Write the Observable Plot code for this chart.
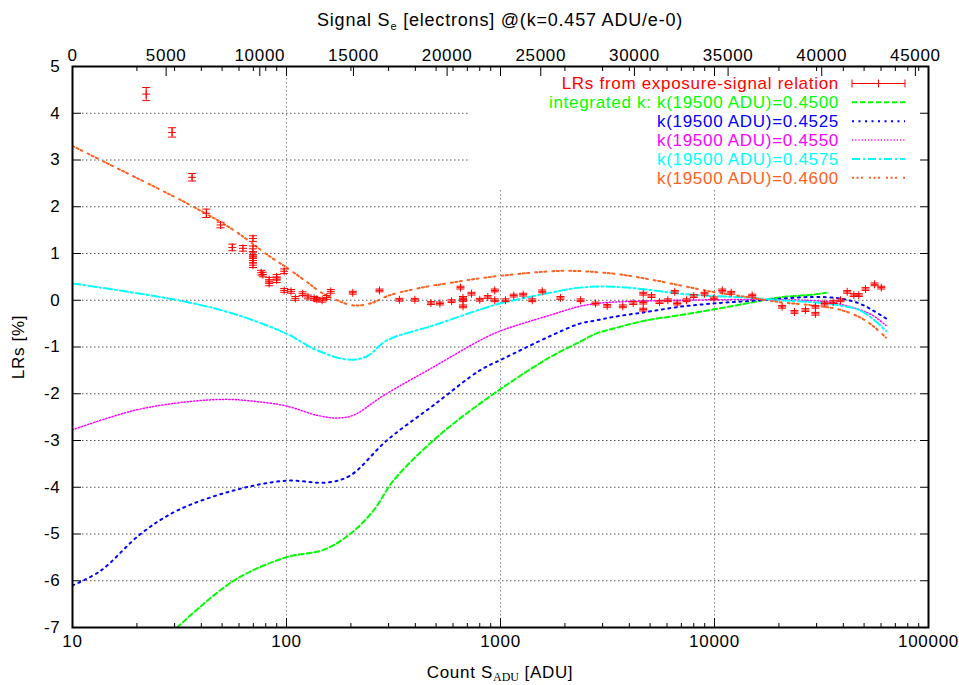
<!DOCTYPE html>
<html><head><meta charset="utf-8">
<script src="https://cdn.jsdelivr.net/npm/d3@7"></script>
<script src="https://cdn.jsdelivr.net/npm/@observablehq/plot@0.6"></script>
<style>body{margin:0;background:#fff} #chart{width:959px;height:685px}</style>
</head><body><div id="chart"></div>
<script>
const FONT = "'Liberation Sans', Arial, Helvetica, sans-serif";

// ---- measured LRs (red points with error bars) ----
const lrAdu = [22.1,29.2,36.2,42.2,49.2,55.8,62.6,69.7,69.7,69.7,69.7,69.7,69.7,76.2,77.5,83,83,90,90,97.5,97.5,105,110,119,126,134.6,138.6,146.8,154,161,204,272,337,398,473,521,591,650,668,668,668,732,800,872,940,940,1055,1153,1276,1407,1567,1906,2366,2780,3152,3728,4170,4645,4645,4645,5076,5534,6052,6524,6696,7400,8000,8980,9930,10870,11970,15000,20700,23640,26600,29630,29630,32750,35860,38800,41700,44770,47230,50800,55970,60150];
const lrVal = [4.41,3.59,2.63,1.86,1.61,1.13,1.11,1.32,1.10,0.98,0.90,0.85,0.75,0.59,0.55,0.36,0.44,0.50,0.43,0.62,0.21,0.19,0.04,0.14,0.07,0.04,0.02,0.00,0.06,0.19,0.16,0.21,0.01,0.01,-0.06,-0.07,-0.02,0.27,0.00,-0.13,0.05,0.14,0.01,0.07,0.21,0.00,0.00,0.10,0.12,0.00,0.19,0.05,0.00,-0.07,-0.12,-0.13,-0.06,0.14,-0.05,-0.20,0.09,-0.04,0.00,0.18,-0.07,0.00,0.09,0.14,0.04,0.21,0.16,0.10,-0.14,-0.25,-0.21,-0.14,-0.29,-0.07,-0.04,0.00,0.18,0.11,0.11,0.24,0.34,0.27];
const lrErr = [0.14,0.10,0.08,0.09,0.06,0.07,0.06,0.06,0.06,0.05,0.05,0.05,0.05,0.05,0.05,0.05,0.05,0.05,0.05,0.05,0.04,0.04,0.04,0.04,0.04,0.04,0.04,0.04,0.04,0.04,0.03,0.03,0.03,0.03,0.03,0.03,0.03,0.03,0.03,0.03,0.03,0.03,0.03,0.03,0.03,0.03,0.03,0.03,0.03,0.03,0.03,0.03,0.03,0.03,0.03,0.03,0.03,0.03,0.03,0.03,0.03,0.03,0.03,0.03,0.03,0.03,0.03,0.03,0.03,0.03,0.03,0.03,0.03,0.03,0.03,0.03,0.03,0.03,0.03,0.03,0.03,0.03,0.03,0.03,0.03,0.03];

// ---- model curves ----
const greenAdu = [30.8,56.6,99.4,148.9,198.3,254.7,315.7,485,801,1641,2347,2809,3345,4807,6873,9797,14075,20130,28700,33240];
const greenLrs = [-7.0,-6.0,-5.5,-5.34,-5.0,-4.5,-3.86,-3.0,-2.21,-1.26,-0.89,-0.71,-0.61,-0.43,-0.32,-0.2,-0.07,0.06,0.12,0.16];
const blueAdu = [10,13.5,20.8,30.8,56.6,99.4,154.4,198.3,294.2,485,801,1029,1700,2347,2809,3345,4807,6873,9797,14075,20130,28700,38360,47540,54680,63340];
const blueLrs = [-6.1,-5.79,-5.0,-4.5,-4.07,-3.86,-3.9,-3.75,-3.0,-2.25,-1.5,-1.25,-0.77,-0.5,-0.43,-0.36,-0.25,-0.14,-0.07,-0.02,0.03,0.07,0.04,-0.07,-0.21,-0.39];
const magentaAdu = [10,19.3,33.1,52.7,69.9,99.4,138.7,171.9,205.4,283.6,485,801,994,1700,2347,2809,3345,6873,20130,34440,47540,54680,63340];
const magentaLrs = [-2.77,-2.36,-2.18,-2.12,-2.16,-2.26,-2.46,-2.52,-2.46,-2.04,-1.43,-0.86,-0.66,-0.32,-0.13,-0.07,-0.04,0.0,0.01,-0.04,-0.2,-0.32,-0.54];
const cyanAdu = [10,31.9,56.6,99.4,138.7,194.7,237.2,294.2,485,801,994,1700,2347,3345,4807,6873,9797,14075,20130,28700,38360,47540,54680,63340];
const cyanLrs = [0.36,-0.01,-0.29,-0.71,-1.07,-1.27,-1.2,-0.86,-0.54,-0.2,-0.07,0.16,0.27,0.29,0.23,0.14,0.09,0.06,0.0,-0.04,-0.11,-0.21,-0.39,-0.66];
const orangeAdu = [10,13.95,36.7,56.6,83.9,99.4,124.5,143.7,171.9,205.4,245.8,304.8,452,580,773,1189,2000,3345,4807,6873,9797,14075,20130,28700,38360,47540,54680,63340];
const orangeLrs = [3.3,2.97,2.0,1.5,0.93,0.71,0.39,0.18,0.0,-0.11,-0.07,0.11,0.29,0.37,0.46,0.56,0.63,0.57,0.46,0.32,0.18,0.07,-0.04,-0.11,-0.2,-0.36,-0.54,-0.8];

const seriesLabels = ["LRs from exposure-signal relation","integrated k: k(19500 ADU)=0.4500","k(19500 ADU)=0.4525","k(19500 ADU)=0.4550","k(19500 ADU)=0.4575","k(19500 ADU)=0.4600"];
const seriesColors = ["#ff0000","#00ff00","#0000ff","#ff00ff","#00ffff","#ff6020"];
const seriesDash = [null,"5,3","2,4.5","1.2,2","8,3,2,3","2,2.5,2,2.5,2,6"];
const seriesWidth = [1,2,2,1.5,2,2];

// ---- axes ----
const xMajor = [10,100,1000,10000,100000];
const xMinor = [];
for (const dec of [10,100,1000,10000]) for (let m = 2; m <= 9; m++) xMinor.push(dec*m);
const yTicks = d3.range(-7,6);
const yGrid = d3.range(-6,5);
const xGrid = [100,1000,10000];
const X2MAX = 45700;   // top axis range, electrons
const x2Ticks = d3.range(0,45001,5000);
const e2adu = e => Math.pow(10, 1 + 4*e/X2MAX);

const pts = lrAdu.map((a,i)=>({adu:a, v:lrVal[i], e:lrErr[i]}));
const curves = [[greenAdu,greenLrs],[blueAdu,blueLrs],[magentaAdu,magentaLrs],[cyanAdu,cyanLrs],[orangeAdu,orangeLrs]]
  .map(([xs,ys]) => xs.map((x,i)=>({adu:x, v:ys[i]})));

const capSymbol = {draw(ctx, size){ const w = Math.sqrt(size/Math.PI)*0.5; ctx.moveTo(-w,0); ctx.lineTo(w,0); }};
const plusSymbol = {draw(ctx, size){ const w = Math.sqrt(size/Math.PI)*0.5; ctx.moveTo(-w,0); ctx.lineTo(w,0); ctx.moveTo(0,-w); ctx.lineTo(0,w); }};

const plot = Plot.plot({
  width: 959, height: 685,
  marginLeft: 72, marginRight: 31, marginTop: 66, marginBottom: 58,
  style: {fontFamily: FONT, fontSize: "17px", background: "white", color: "black", letterSpacing: "0.7px"},
  x: {type: "log", domain: [10,100000], label: null},
  y: {domain: [-7,5], label: null},
  marks: [
    Plot.ruleX(xGrid, {stroke:"#888", strokeDasharray:"1.5,2.5", strokeWidth:1}),
    Plot.ruleY(yGrid, {stroke:"#555", strokeDasharray:"1.5,2.5", strokeWidth:1, insetLeft:10, insetRight:10}),
    ...curves.map((c,i)=>Plot.line(c, {x:"adu", y:"v", stroke:seriesColors[i+1], strokeWidth:seriesWidth[i+1], strokeDasharray:seriesDash[i+1], curve:"catmull-rom", clip:true})),
    Plot.ruleX(pts, {x:"adu", y1:d=>d.v-d.e, y2:d=>d.v+d.e, stroke:"#ff0000", strokeWidth:1}),
    Plot.dot(pts, {x:"adu", y:d=>d.v-d.e, symbol:capSymbol, r:8, fill:"none", stroke:"#ff0000", strokeWidth:1}),
    Plot.dot(pts, {x:"adu", y:d=>d.v+d.e, symbol:capSymbol, r:8, fill:"none", stroke:"#ff0000", strokeWidth:1}),
    Plot.dot(pts, {x:"adu", y:"v", symbol:plusSymbol, r:8, fill:"none", stroke:"#ff0000", strokeWidth:1}),
    // tick marks (inward)
    Plot.axisX(xMajor, {anchor:"bottom", tickSize:-9, tickFormat:()=>"", label:null}),
    Plot.axisX(xMinor, {anchor:"bottom", tickSize:-4, tickFormat:()=>"", label:null}),
    Plot.axisX(xMajor, {anchor:"top", tickSize:-9, tickFormat:()=>"", label:null}),
    Plot.axisX(xMinor, {anchor:"top", tickSize:-4, tickFormat:()=>"", label:null}),
    Plot.axisX(x2Ticks.map(e2adu), {anchor:"top", tickSize:-9, tickFormat:()=>"", label:null}),
    Plot.axisY(yTicks, {anchor:"left", tickSize:-9, tickFormat:()=>"", label:null}),
    Plot.axisY(yTicks, {anchor:"right", tickSize:-9, tickFormat:()=>"", label:null}),
    // tick labels
    Plot.text(xMajor, {x:d=>d, frameAnchor:"bottom", dy:19, text:d=>String(d), fill:"black"}),
    Plot.text(x2Ticks, {x:e2adu, frameAnchor:"top", dy:-18, text:d=>String(d), fill:"black"}),
    Plot.text(yTicks, {y:d=>d, frameAnchor:"left", dx:-12, textAnchor:"end", text:d=>String(d), fill:"black"}),
    Plot.frame({stroke:"black", strokeWidth:2})
  ]
});
document.getElementById("chart").appendChild(plot);

// ---- titles & legend (layout only) ----
const svg = d3.select(plot);
const t = svg.append("text").attr("x",500).attr("y",20).attr("dy","0.35em").attr("text-anchor","middle")
  .style("font-family",FONT).style("font-size","18px").style("letter-spacing","0.8px").attr("fill","black");
t.append("tspan").text("Signal S");
t.append("tspan").text("e").style("font-size","11px").attr("dy","4");
t.append("tspan").text(" [electrons] @(k=0.457 ADU/e-0)").attr("dy","-4");

const xl = svg.append("text").attr("x",500).attr("y",672).attr("dy","0.35em").attr("text-anchor","middle")
  .style("font-family",FONT).style("font-size","17px").attr("fill","black");
xl.append("tspan").text("Count S");
xl.append("tspan").text("ADU").style("font-size","12px").style("font-family","'Liberation Serif', serif").style("letter-spacing","0px").attr("dy","3");
xl.append("tspan").text(" [ADU]").attr("dy","-3");

svg.append("text").attr("transform","translate(18,347) rotate(-90)").attr("dy","0.35em").attr("text-anchor","middle")
  .style("font-family",FONT).style("font-size","17px").attr("fill","black").text("LRs [%]");

const lg = svg.append("g");
lg.append("rect").attr("x",470).attr("y",76).attr("width",446).attr("height",112).attr("fill","white");
seriesLabels.forEach((lab,i)=>{
  const y = 83.5 + i*18.85;
  lg.append("text").attr("x",839).attr("y",y).attr("dy","0.35em").attr("text-anchor","end")
    .style("font-family",FONT).style("font-size","17px").attr("fill",seriesColors[i]).text(lab);
  if (i===0) {
    lg.append("line").attr("x1",852).attr("x2",905).attr("y1",y).attr("y2",y).attr("stroke",seriesColors[0]);
    for (const xx of [852,905,878.5]) lg.append("line").attr("x1",xx).attr("x2",xx).attr("y1",y-4).attr("y2",y+4).attr("stroke",seriesColors[0]);
  } else {
    lg.append("line").attr("x1",852).attr("x2",905).attr("y1",y).attr("y2",y).attr("stroke",seriesColors[i])
      .attr("stroke-width",seriesWidth[i]).attr("stroke-dasharray",seriesDash[i]);
  }
});
</script></body></html>
